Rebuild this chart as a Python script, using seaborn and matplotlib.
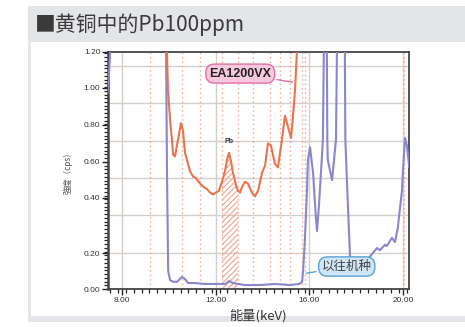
import numpy as np
import pandas as pd
import matplotlib
matplotlib.use("Agg")
import matplotlib.pyplot as plt
import seaborn as sns
from matplotlib.patches import Rectangle
from matplotlib.ticker import FixedLocator, NullFormatter

# EA1200VX spectrum (keV, cps)
ea_kev = [9.86, 9.92, 9.96, 10.05, 10.13, 10.18, 10.26, 10.39, 10.52, 10.60,
          10.69, 10.82, 10.90, 11.03, 11.16, 11.33, 11.50, 11.63, 11.76, 11.89,
          12.01, 12.14, 12.27, 12.40, 12.48, 12.57, 12.66, 12.74, 12.87, 12.95,
          13.04, 13.12, 13.25, 13.38, 13.55, 13.68, 13.81, 13.98, 14.11, 14.23,
          14.36, 14.53, 14.66, 14.83, 14.96, 15.09, 15.22, 15.30, 15.39, 15.47,
          15.52]
ea_cps = [1.50, 1.20, 0.99, 0.83, 0.72, 0.64, 0.63, 0.72, 0.81, 0.77,
          0.65, 0.59, 0.55, 0.52, 0.51, 0.48, 0.46, 0.45, 0.43, 0.42,
          0.43, 0.44, 0.49, 0.55, 0.61, 0.65, 0.60, 0.54, 0.47, 0.44,
          0.43, 0.46, 0.49, 0.48, 0.43, 0.41, 0.44, 0.54, 0.58, 0.70,
          0.69, 0.59, 0.57, 0.72, 0.85, 0.79, 0.73, 0.84, 0.99, 1.20,
          1.50]

# previous model spectrum
old_kev = [7.38, 7.45, 7.49, 7.53, 9.80, 9.86, 9.88, 9.92, 9.97, 10.05,
           10.18, 10.35, 10.56, 10.69, 10.82, 11.12, 11.54, 11.97, 12.40, 12.57,
           12.74, 13.25, 13.89, 14.53, 15.17, 15.56, 15.69, 15.73, 15.81, 15.90,
           15.94, 16.03, 16.16, 16.28, 16.33, 16.41, 16.54, 16.58, 16.62, 16.68,
           16.75, 16.77, 16.79, 16.97, 17.01, 17.14, 17.18, 17.35, 17.52, 17.54,
           17.65, 17.74, 17.82, 18.08, 18.38, 18.59, 18.89, 19.02, 19.23, 19.31,
           19.53, 19.66, 19.78, 19.87, 19.96, 20.00, 20.09, 20.17, 20.27]
old_cps = [0.97, 1.10, 1.20, 1.60, 1.80, 1.60, 1.20, 0.55, 0.10, 0.05,
           0.04, 0.04, 0.067, 0.055, 0.033, 0.033, 0.028, 0.028, 0.028, 0.044,
           0.033, 0.022, 0.022, 0.028, 0.022, 0.028, 0.039, 0.094, 0.247, 0.44,
           0.61, 0.68, 0.54, 0.33, 0.28, 0.37, 0.63, 0.72, 1.20, 1.60,
           1.20, 0.72, 0.61, 0.50, 0.55, 0.72, 1.20, 1.60, 1.20, 0.72,
           0.37, 0.18, 0.15, 0.133, 0.15, 0.18, 0.218, 0.21, 0.23, 0.225,
           0.255, 0.24, 0.29, 0.36, 0.44, 0.55, 0.73, 0.69, 0.57]

# ROI marker lines and the Pb band
roi_kev = [9.20, 10.56, 11.33, 12.27, 12.95, 13.59, 14.32, 14.75, 15.17, 15.69, 15.80, 20.05]
pb_lo, pb_hi = 12.27, 12.95

y_ticks = [0.0, 0.2, 0.4, 0.6, 0.8, 1.0, 1.2]
y_labels = ["0.00", "0.20", "0.40", "0.60", "0.80", "1.00", "1.20"]
x_ticks = [8, 12, 16, 20]
x_labels = ["8.00", "12.00", "16.00", "20.00"]

ea = pd.DataFrame({"kev": ea_kev, "cps": ea_cps})
old = pd.DataFrame({"kev": old_kev, "cps": old_cps})

sns.set_style("white")
plt.rcParams["font.family"] = ["Liberation Sans", "Noto Sans CJK JP", "DejaVu Sans"]
plt.rcParams["hatch.linewidth"] = 0.8

RED = "#e8744f"
BLUE = "#8a86cc"
DOT = "#eda48e"
GRID = "#d6cec8"
CJK = ["Noto Sans CJK SC", "DejaVu Sans"]

fig = plt.figure(figsize=(4.65, 3.27), dpi=100)
fig.patch.set_facecolor("white")
# grey panel + white plot area behind the axes
fig.patches.append(Rectangle((0.06, 0.015), 0.94, 0.968, transform=fig.transFigure,
                             facecolor="#e4e5e9", edgecolor="none", zorder=-3))
fig.patches.append(Rectangle((0.066, 0.033), 0.934, 0.84, transform=fig.transFigure,
                             facecolor="white", edgecolor="none", zorder=-2))
fig.text(0.075, 0.925, "■黄铜中的Pb100ppm", fontsize=15, color="#3a3a3a",
         family=CJK, va="center", ha="left")

ax = fig.add_axes([0.2323, 0.1162, 0.6473, 0.7248])

# the printed chart has an uneven vertical scale; map the labelled values onto it
knot_v = np.array([0.0, 0.2, 0.4, 0.6, 0.8, 1.0, 1.2, 3.0])
knot_f = np.array([0, 36, 91, 127, 164, 201, 237, 566]) / 237.0
fwd = lambda v: np.interp(v, knot_v, knot_f)
inv = lambda f: np.interp(f, knot_f, knot_v)
ax.set_yscale("function", functions=(fwd, inv))
ax.set_ylim(0, 1.2)
ax.set_xlim(7.40, 20.26)

# grid: evenly spaced on the page
grid_f = np.arange(1, 7) * 0.1578 - 0.005
for g in inv(grid_f):
    ax.axhline(g, color=GRID, lw=1.0, zorder=0)
for xv in x_ticks:
    ax.axvline(xv, color=GRID, lw=1.0, zorder=0)
for xv in roi_kev:
    ax.axvline(xv, color=DOT, lw=1.0, ls=(0, (1, 2.2)), zorder=1)

# hatched Pb region under the EA1200VX curve
band = (ea["kev"] >= pb_lo) & (ea["kev"] <= pb_hi)
ax.fill_between(ea["kev"][band], 0, ea["cps"][band], facecolor="none",
                edgecolor=DOT, hatch="//////", linewidth=0, zorder=1)

sns.lineplot(data=old, x="kev", y="cps", ax=ax, color=BLUE, lw=1.5, zorder=3)
sns.lineplot(data=ea, x="kev", y="cps", ax=ax, color=RED, lw=1.5, zorder=4)

ax.text(12.57, 0.71, "Pb", fontsize=5, fontweight="bold", color="#333333",
        ha="center", va="center")

ax.annotate("EA1200VX", xy=(15.40, 1.03), xytext=(13.05, 1.08),
            fontsize=9, fontweight="bold", color="#222222", ha="center", va="center",
            bbox=dict(boxstyle="round,pad=0.28,rounding_size=0.7",
                      fc="#f8c9dc", ec="#e56ea3", lw=1.0),
            arrowprops=dict(arrowstyle="-", color="#e56ea3", lw=1.0), zorder=6)
ax.annotate("以往机种", xy=(15.75, 0.085), xytext=(17.6, 0.125),
            fontsize=9, color="#444444", ha="center", va="center", family=CJK,
            bbox=dict(boxstyle="round,pad=0.25,rounding_size=0.7",
                      fc="#cfe6f8", ec="#5aa2da", lw=1.0),
            arrowprops=dict(arrowstyle="-", color="#5aa2da", lw=1.0), zorder=6)

# ticks
ax.set_yticks(y_ticks)
ax.set_yticklabels(y_labels)
ax.yaxis.set_minor_locator(FixedLocator(inv(np.arange(0, 1.0, 0.01578))))
ax.yaxis.set_minor_formatter(NullFormatter())
ax.set_xticks(x_ticks)
ax.set_xticklabels(x_labels)
ax.xaxis.set_minor_locator(FixedLocator(np.arange(7.5, 20.3, 1 / 3)))
ax.tick_params(axis="both", which="major", labelsize=6, colors="#222222",
               labelcolor="#333333", length=4, width=1.0, direction="out")
ax.tick_params(axis="both", which="minor", length=3, width=0.9,
               colors="#222222", direction="out")
ax.tick_params(axis="y", which="both", left=True, pad=1.5)
ax.tick_params(axis="x", which="both", bottom=True, pad=2)

for side in ["left", "right", "top", "bottom"]:
    ax.spines[side].set_color("#444444")
    ax.spines[side].set_linewidth(1.3)
ax.spines["left"].set_linewidth(1.8)

ax.set_xlabel("能量(keV)", fontsize=9.5, color="#333333", labelpad=3, family=CJK)
ax.set_ylabel("強度（cps）", fontsize=6, color="#555555", labelpad=8,
              family=["Noto Sans CJK JP", "DejaVu Sans"])
ax.set_facecolor("white")

fig.savefig("out.png", dpi=100)
